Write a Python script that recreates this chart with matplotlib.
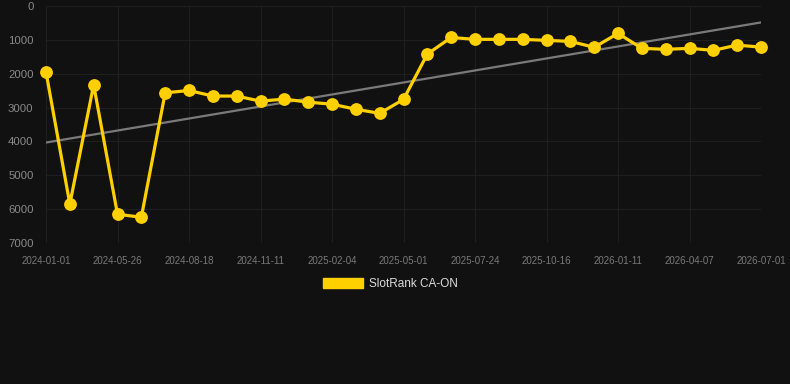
import matplotlib
matplotlib.use("Agg")
import matplotlib.pyplot as plt
from matplotlib.patches import Patch
import numpy as np

tick_labels = ["2024-01-01", "2024-05-26", "2024-08-18", "2024-11-11", "2025-02-04",
               "2025-05-01", "2025-07-24", "2025-10-16", "2026-01-11", "2026-04-07", "2026-07-01"]
ranks = [1950, 5850, 2330, 6150, 6240, 2565, 2495, 2660, 2660, 2810, 2750,
         2840, 2900, 3050, 3170, 2760, 1420, 930, 985, 985, 985,
         1015, 1045, 1220, 810, 1250, 1280, 1250, 1310, 1155, 1215]
series_name = "SlotRank CA-ON"

BG = "#111111"
GOLD = "#FFD000"
W, H = 790, 384

plt.rcParams['font.family'] = ['Liberation Sans', 'DejaVu Sans']
fig = plt.figure(figsize=(W / 100, H / 100), dpi=100, facecolor=BG)
ax = fig.add_axes([46 / W, 1 - 243 / H, (761 - 46) / W, (243 - 6) / H])
ax.set_facecolor(BG)

x = np.arange(len(ranks))
coef = np.polyfit(x, ranks, 1)
ax.plot(x, np.polyval(coef, x), color="#7a7a7a", lw=1.6, zorder=2)
ax.plot(x, ranks, color=GOLD, lw=2.3, marker="o", markersize=8.2, zorder=3, clip_on=False)

ax.set_xlim(0, len(ranks) - 1)
ax.set_ylim(7000, 0)
ax.set_yticks(np.arange(0, 7001, 1000))
ax.set_xticks(np.arange(0, len(ranks), 3))
ax.set_xticklabels(tick_labels)
ax.grid(True, color="#1f1f1f", lw=0.8)
ax.set_axisbelow(True)
for s in ax.spines.values():
    s.set_visible(False)
ax.tick_params(axis="y", length=0, pad=9, labelsize=8.2, labelcolor="#8a8a8a")
ax.tick_params(axis="x", length=0, pad=9, labelsize=7, labelcolor="#7a7a7a")

fig.legend(handles=[Patch(facecolor=GOLD, edgecolor=GOLD, label=series_name)],
           loc="center", bbox_to_anchor=(390 / W, 1 - 284 / H), frameon=False,
           fontsize=8.5, labelcolor="#dddddd", handlelength=3.4, handleheight=0.9,
           handletextpad=0.5)

fig.savefig("out.png", dpi=100, facecolor=BG)
